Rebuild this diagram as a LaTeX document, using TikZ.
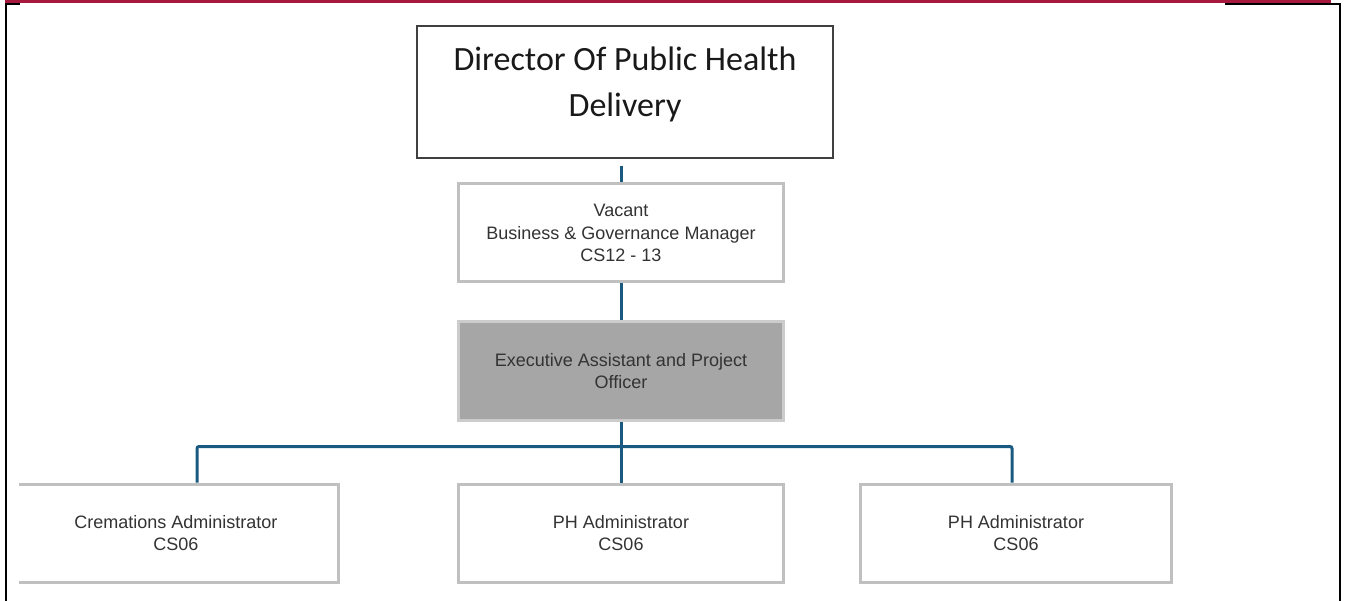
\documentclass[tikz,border=0pt]{standalone}
\usepackage{fontspec}
\setmainfont{Liberation Sans}
\newfontfamily\calibri{Carlito}
\usetikzlibrary{backgrounds}

\definecolor{bandred}{RGB}{166,25,60}
\definecolor{linkblue}{RGB}{26,90,128}
\definecolor{edgegrey}{RGB}{192,192,192}
\definecolor{fillgrey}{RGB}{166,166,166}
\definecolor{textgrey}{RGB}{51,51,51}

\begin{document}
\begin{tikzpicture}[x=1pt, y=-1pt,
    role/.style={draw=edgegrey, line width=3pt, fill=white, inner sep=0pt,
        minimum width=325pt, minimum height=98pt, align=center,
        text=textgrey, font=\fontsize{18}{22.5}\selectfont},
    link/.style={draw=linkblue, line width=3pt, rounded corners=2pt}]
    \useasboundingbox (0,0) rectangle (1346,601);

    % Page band and frame
    \fill[bandred] (5,0) rectangle (1331,3.5);
    \draw[line width=2.5pt] (6,601) -- (6,4) -- (20,4);
    \draw[line width=2.5pt] (1225,4) -- (1340,4) -- (1340,601);

    % Top post
    \node[draw=black!75, line width=1.5pt, minimum width=416pt, minimum height=132pt]
        (director) at (625,92) {};
    \node[align=center, text=black!90, font=\calibri\fontsize{34}{46}\selectfont]
        (directortitle) at (625,84) {Director Of Public Health\\Delivery};

    % Middle posts
    \node[role] (vacant) at (621,233) {Vacant\\Business \& Governance Manager\\CS12 - 13};
    \node[role, fill=fillgrey, draw=black!20] (exec) at (621,371)
        {Executive Assistant and Project\\Officer};

    % Bottom row
    \begin{scope}
        \clip (19,0) rectangle (1346,601);
        \node[role] (crem) at (176,533) {Cremations Administrator\\CS06};
    \end{scope}
    \node[role] (admina) at (621,533) {PH Administrator\\CS06};
    \node[role, minimum width=311pt] (adminb) at (1016,533) {PH Administrator\\CS06};

    % Reporting lines
    \begin{scope}[on background layer]
        \draw[link] ([yshift=-7pt]vacant.north |- director.south) -- (vacant.north);
        \draw[link] (vacant.south) -- (exec.south);
        \draw[link] (exec.south) -- ++(0,25) coordinate (bus);
        \draw[link] ([xshift=21pt]crem.north) |- (bus) -| ([xshift=-4pt]adminb.north);
        \draw[link] (bus) -- (admina.north);
    \end{scope}
\end{tikzpicture}
\end{document}
